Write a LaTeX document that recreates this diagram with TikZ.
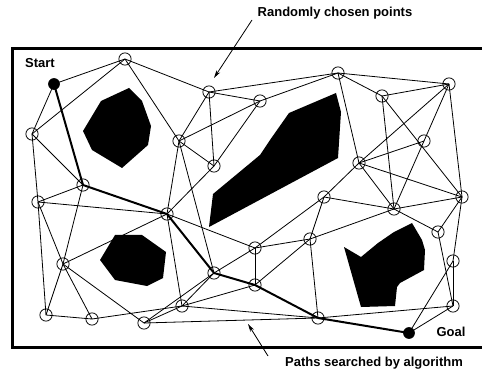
\documentclass[tikz,border=0pt]{standalone}
\usepackage{fontspec}
\setmainfont{Liberation Sans}
\usetikzlibrary{arrows.meta}
\begin{document}
\begin{tikzpicture}[x=0.75pt,y=-0.75pt,
  every node/.style={font=\fontsize{9.75}{11}\selectfont\bfseries},
  pt/.style={circle,draw,line width=0.6pt,minimum size=9.2pt,inner sep=0pt},
  endpt/.style={circle,fill=black,minimum size=8.8pt,inner sep=0pt},
  edge/.style={line width=0.6pt},
  pathedge/.style={line width=1.5pt},
  obst/.style={fill=black},
  frame/.style={line width=1.6pt},
  lbl/.style={inner sep=0pt},
  pointer/.style={line width=0.6pt,-{Stealth[length=6pt,width=3.2pt]}}]
\useasboundingbox (0,0) rectangle (482,374);
\clip (0,0) rectangle (482,374);
% frame
\draw[frame] (12.5,48.5) rectangle (492,347.5);
% obstacles
\fill[obst] (129,88) -- (142,101) -- (151,126) -- (148,145) -- (122,168) -- (92,150) -- (83,131) -- (101,101) -- cycle;
\fill[obst] (336,93) -- (341,112) -- (338,158) -- (209,227) -- (213,194) -- (260,155) -- (270,140) -- (289,113) -- cycle;
\fill[obst] (115,235) -- (142,235) -- (166,252) -- (163,278) -- (147,286) -- (115,280) -- (100,260) -- cycle;
\fill[obst] (344,247) -- (361,257) -- (378,243) -- (394,232) -- (412,223) -- (422,240) -- (425,250) -- (424,270) -- (400,283) -- (397,287) -- (395,306) -- (361,307) -- cycle;
% points
\node[endpt] (S) at (54,84) {};
\node[endpt] (Goal) at (409,333) {};
\node[pt] (A) at (125,59) {};
\node[pt] (B) at (32,134) {};
\node[pt] (C) at (209,92) {};
\node[pt] (D) at (179,141) {};
\node[pt] (E) at (214,166) {};
\node[pt] (F) at (83,185) {};
\node[pt] (G) at (38,202) {};
\node[pt] (H) at (260,101) {};
\node[pt] (I) at (338,73) {};
\node[pt] (J) at (382,96) {};
\node[pt] (K) at (449,84) {};
\node[pt] (L) at (424,141) {};
\node[pt] (M) at (359,163) {};
\node[pt] (N) at (324,197) {};
\node[pt] (O) at (462,197) {};
\node[pt] (P) at (167,214) {};
\node[pt] (Q) at (63,264) {};
\node[pt] (R) at (214,273) {};
\node[pt] (T) at (182,306) {};
\node[pt] (U) at (46,315) {};
\node[pt] (V) at (92,319) {};
\node[pt] (W) at (144,323) {};
\node[pt] (X) at (394,209) {};
\node[pt] (Y) at (438,232) {};
\node[pt] (Z) at (310,239) {};
\node[pt] (AA) at (255,248) {};
\node[pt] (AB) at (453,261) {};
\node[pt] (AC) at (255,285) {};
\node[pt] (AD) at (453,306) {};
\node[pt] (AE) at (318,318) {};
% edges
\foreach \a/\b in {S/A,S/B,A/B,A/C,A/D,B/F,B/G,C/D,C/E,C/H,C/I,D/H,D/E,D/P,D/R,E/H,E/P,
  F/G,F/Q,G/P,G/Q,G/U,P/Q,P/T,P/AA,Q/U,Q/V,Q/W,U/V,V/T,W/T,W/R,W/AE,T/R,T/AE,T/AC,
  R/AA,AA/Z,AA/AC,AA/N,Z/N,Z/X,Z/AC,Z/AE,AE/AD,H/I,I/K,I/J,I/M,J/K,J/X,J/O,K/L,L/X,
  L/M,K/M,K/O,M/N,M/X,M/O,N/X,X/O,X/Y,O/Y,O/AB,AB/AD,AB/Goal,Y/AD,AD/Goal}
  \draw[edge] (\a.center) -- (\b.center);
\foreach \a/\b in {S/F,F/P,P/R,R/AC,AC/AE,AE/Goal}
  \draw[pathedge] (\a.center) -- (\b.center);
% labels
\node[lbl] (start) at (40,63) {Start};
\node[lbl] (goal) at (451,332) {Goal};
\node[lbl] (rand) at (335,13) {Randomly chosen points};
\node[lbl] (paths) at (374,363) {Paths searched by algorithm};
\coordinate (r1) at (252,20);
\coordinate (r2) at (214,78);
\coordinate (p1) at (268,356);
\coordinate (p2) at (248,324);
\draw[pointer] (r1) -- (r2);
\draw[pointer] (p1) -- (p2);
\end{tikzpicture}
\end{document}
